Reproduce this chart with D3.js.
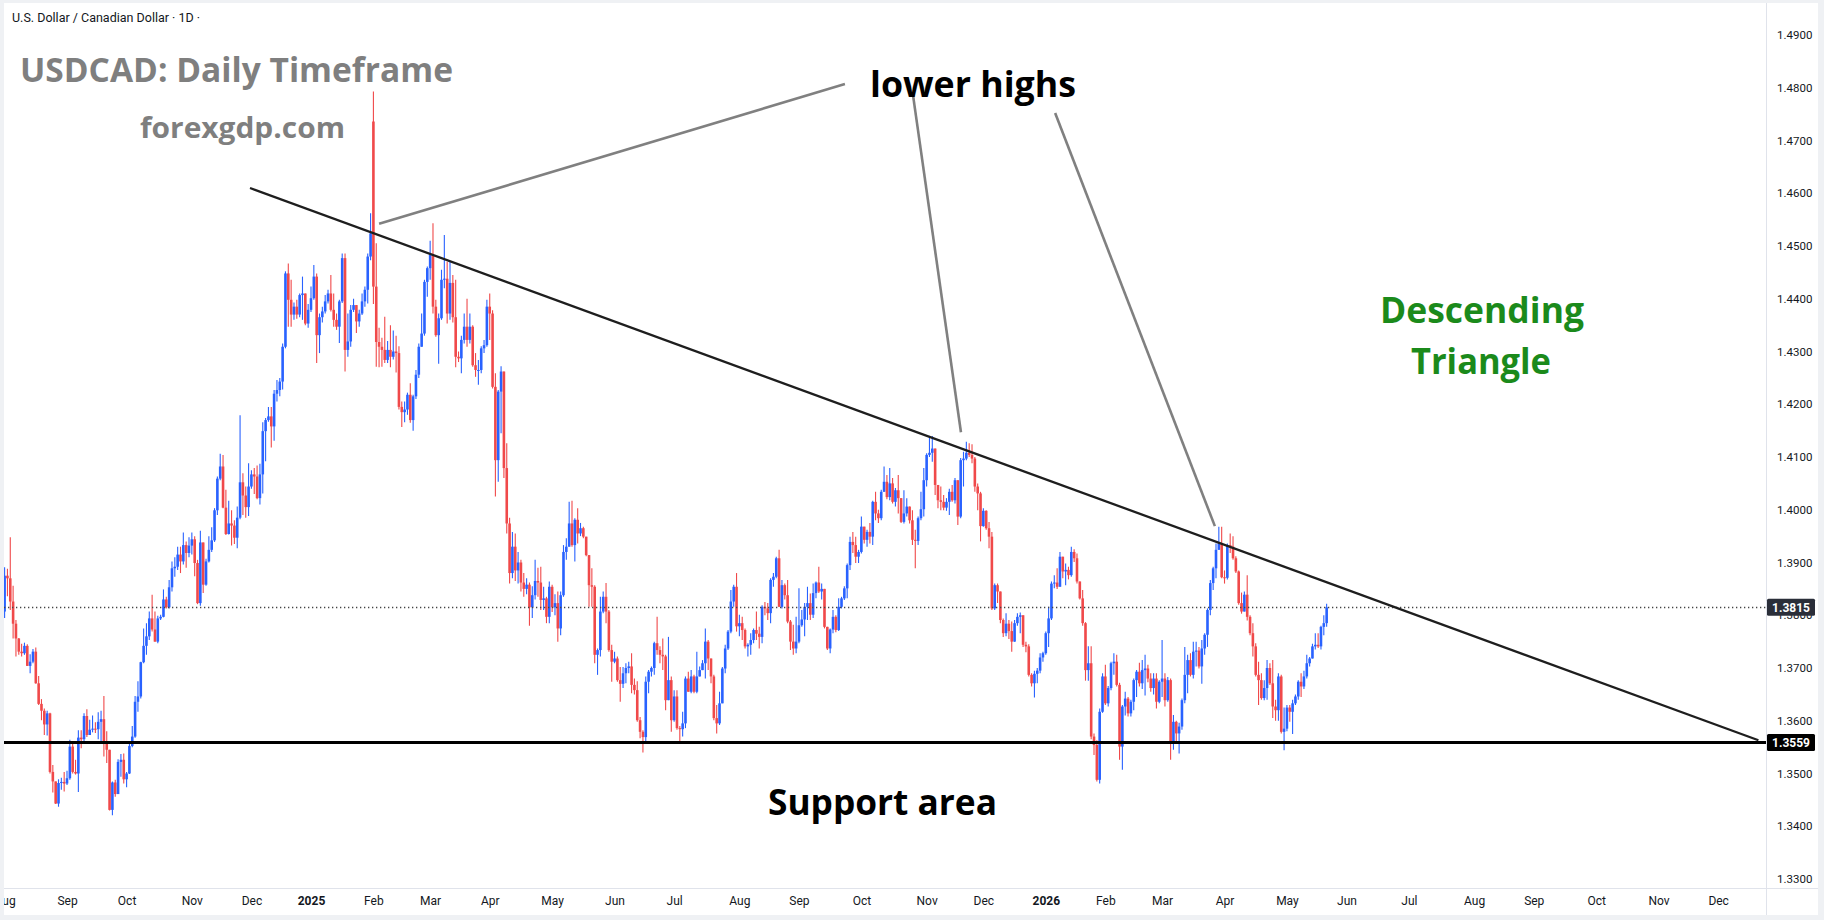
<!DOCTYPE html>
<html><head><meta charset="utf-8">
<script src="https://cdn.jsdelivr.net/npm/d3@7"></script>
<style>html,body{margin:0;padding:0;background:#fff;overflow:hidden}</style>
</head><body><svg id="c" width="1824" height="920" xmlns="http://www.w3.org/2000/svg"></svg>
<script>
// ---------------- DATA (USDCAD daily) ----------------
const startDate = "2024-08-01";          // first daily bar
const skippedDays = ["12-25", "01-01"];  // holidays without a bar
const firstOpen = 1.3807;
const gapOpens = {130: 1.4736};          // opening gaps (otherwise open = previous close)

const closes = [
1.3875,1.3870,1.3826,1.3784,1.3756,1.3731,1.3728,1.3742,1.3704,1.3712,
1.3731,1.3671,1.3632,1.3619,1.3593,1.3614,1.3503,1.3485,1.3443,1.3482,
1.3484,1.3481,1.3491,1.3551,1.3503,1.3500,1.3568,1.3565,1.3609,1.3573,
1.3583,1.3585,1.3584,1.3598,1.3603,1.3557,1.3545,1.3431,1.3483,1.3461,
1.3522,1.3526,1.3489,1.3500,1.3552,1.3570,1.3636,1.3646,1.3711,1.3742,
1.3760,1.3794,1.3773,1.3750,1.3794,1.3797,1.3830,1.3815,1.3853,1.3889,
1.3892,1.3915,1.3902,1.3933,1.3918,1.3932,1.3944,1.3899,1.3823,1.3938,
1.3858,1.3902,1.3924,1.3942,1.3999,1.4059,1.4082,1.4004,1.3954,1.3974,
1.3970,1.3947,1.3985,1.4052,1.4027,1.4005,1.4044,1.4067,1.4063,1.4022,
1.4067,1.4149,1.4170,1.4177,1.4158,1.4220,1.4227,1.4243,1.4309,1.4448,
1.4398,1.4370,1.4385,1.4370,1.4407,1.4410,1.4353,1.4379,1.4401,1.4442,
1.4331,1.4365,1.4376,1.4395,1.4410,1.4379,1.4360,1.4347,1.4395,1.4477,
1.4303,1.4319,1.4379,1.4388,1.4357,1.4372,1.4395,1.4417,1.4480,1.4524,
1.4423,1.4318,1.4309,1.4303,1.4284,1.4303,1.4290,1.4300,1.4297,1.4195,
1.4185,1.4190,1.4218,1.4170,1.4215,1.4256,1.4309,1.4334,1.4432,1.4458,
1.4483,1.4385,1.4331,1.4363,1.4436,1.4438,1.4372,1.4430,1.4365,1.4290,
1.4287,1.4322,1.4347,1.4322,1.4347,1.4274,1.4265,1.4265,1.4306,1.4312,
1.4385,1.4372,1.4233,1.4094,1.4224,1.4262,1.4079,1.3974,1.3880,1.3930,
1.3885,1.3900,1.3862,1.3850,1.3858,1.3815,1.3838,1.3865,1.3862,1.3829,
1.3832,1.3797,1.3854,1.3815,1.3823,1.3775,1.3838,1.3920,1.3930,1.3974,
1.3933,1.3981,1.3955,1.3965,1.3949,1.3914,1.3857,1.3854,1.3725,1.3734,
1.3807,1.3835,1.3807,1.3734,1.3712,1.3718,1.3677,1.3670,1.3690,1.3700,
1.3703,1.3668,1.3658,1.3601,1.3579,1.3569,1.3674,1.3693,1.3700,1.3747,
1.3734,1.3725,1.3722,1.3639,1.3677,1.3601,1.3646,1.3586,1.3584,1.3595,
1.3680,1.3655,1.3684,1.3655,1.3684,1.3696,1.3709,1.3750,1.3718,1.3684,
1.3605,1.3595,1.3633,1.3699,1.3737,1.3769,1.3826,1.3854,1.3779,1.3785,
1.3772,1.3741,1.3744,1.3753,1.3772,1.3765,1.3759,1.3816,1.3813,1.3804,
1.3867,1.3873,1.3908,1.3816,1.3857,1.3838,1.3788,1.3750,1.3737,1.3750,
1.3781,1.3792,1.3816,1.3823,1.3801,1.3842,1.3862,1.3845,1.3850,1.3778,
1.3737,1.3773,1.3797,1.3772,1.3816,1.3832,1.3851,1.3895,1.3939,1.3933,
1.3911,1.3920,1.3968,1.3943,1.3958,1.3949,1.4015,1.3993,1.3984,1.4034,
1.4053,1.4024,1.4050,1.4015,1.4037,1.4022,1.3977,1.3993,1.4006,1.3980,
1.3943,1.3941,1.3984,1.4001,1.4056,1.4104,1.4108,1.4116,1.4047,1.4018,
1.4015,1.4004,1.4015,1.4034,1.4018,1.4056,1.3987,1.4094,1.4097,1.4108,
1.4104,1.4097,1.4044,1.4031,1.3969,1.3998,1.3965,1.3949,1.3813,1.3857,
1.3845,1.3791,1.3766,1.3784,1.3770,1.3750,1.3785,1.3797,1.3800,1.3744,
1.3741,1.3687,1.3671,1.3689,1.3695,1.3720,1.3728,1.3766,1.3794,1.3860,
1.3862,1.3854,1.3911,1.3883,1.3886,1.3876,1.3920,1.3908,1.3864,1.3832,
1.3785,1.3696,1.3709,1.3570,1.3554,1.3488,1.3617,1.3684,1.3633,1.3662,
1.3709,1.3712,1.3668,1.3551,1.3627,1.3642,1.3614,1.3636,1.3677,1.3693,
1.3671,1.3696,1.3699,1.3680,1.3662,1.3680,1.3636,1.3674,1.3680,1.3639,
1.3677,1.3560,1.3598,1.3576,1.3589,1.3639,1.3687,1.3715,1.3687,1.3731,
1.3733,1.3703,1.3737,1.3763,1.3810,1.3861,1.3889,1.3924,1.3936,1.3872,
1.3871,1.3933,1.3930,1.3908,1.3883,1.3823,1.3807,1.3839,1.3797,1.3766,
1.3741,1.3687,1.3677,1.3643,1.3662,1.3700,1.3671,1.3627,1.3620,1.3684,
1.3579,1.3585,1.3625,1.3617,1.3633,1.3646,1.3674,1.3665,1.3684,1.3709,
1.3718,1.3741,1.3744,1.3741,1.3778,1.3785,1.3815];

const highs = [
1.3891,1.3888,1.3948,1.3856,1.3791,1.3757,1.3746,1.3748,1.3745,1.3726,
1.3736,1.3739,1.3685,1.3641,1.3623,1.3619,1.3615,1.3516,1.3485,1.3489,
1.3492,1.3503,1.3505,1.3564,1.3560,1.3526,1.3582,1.3582,1.3614,1.3622,
1.3602,1.3610,1.3597,1.3616,1.3619,1.3647,1.3580,1.3545,1.3485,1.3488,
1.3527,1.3537,1.3538,1.3503,1.3556,1.3590,1.3647,1.3675,1.3712,1.3775,
1.3785,1.3807,1.3839,1.3807,1.3799,1.3801,1.3849,1.3835,1.3867,1.3902,
1.3910,1.3930,1.3930,1.3957,1.3940,1.3948,1.3957,1.3950,1.3905,1.3960,
1.3938,1.3907,1.3950,1.3967,1.4003,1.4063,1.4106,1.4104,1.4038,1.4017,
1.3999,1.3980,1.4006,1.4179,1.4069,1.4044,1.4088,1.4075,1.4079,1.4084,
1.4087,1.4166,1.4174,1.4195,1.4195,1.4227,1.4246,1.4250,1.4315,1.4452,
1.4467,1.4436,1.4393,1.4398,1.4410,1.4442,1.4410,1.4390,1.4423,1.4464,
1.4448,1.4372,1.4385,1.4407,1.4417,1.4445,1.4410,1.4372,1.4398,1.4486,
1.4486,1.4372,1.4388,1.4400,1.4385,1.4379,1.4410,1.4423,1.4486,1.4562,
1.4793,1.4505,1.4345,1.4326,1.4366,1.4320,1.4350,1.4340,1.4330,1.4310,
1.4205,1.4205,1.4222,1.4240,1.4218,1.4265,1.4315,1.4372,1.4436,1.4461,
1.4510,1.4543,1.4398,1.4372,1.4455,1.4521,1.4470,1.4470,1.4445,1.4436,
1.4300,1.4330,1.4372,1.4400,1.4372,1.4350,1.4297,1.4284,1.4310,1.4322,
1.4398,1.4410,1.4378,1.4259,1.4227,1.4272,1.4262,1.4126,1.3985,1.3958,
1.3955,1.3920,1.3905,1.3880,1.3870,1.3862,1.3855,1.3905,1.3890,1.3892,
1.3854,1.3835,1.3864,1.3858,1.3840,1.3845,1.3845,1.3933,1.3946,1.4015,
1.4017,1.3984,1.4003,1.3975,1.3968,1.3949,1.3914,1.3889,1.3857,1.3737,
1.3835,1.3845,1.3861,1.3810,1.3744,1.3731,1.3722,1.3702,1.3702,1.3709,
1.3712,1.3728,1.3680,1.3675,1.3607,1.3582,1.3684,1.3696,1.3703,1.3750,
1.3797,1.3741,1.3756,1.3725,1.3759,1.3684,1.3658,1.3658,1.3590,1.3617,
1.3684,1.3693,1.3696,1.3687,1.3731,1.3703,1.3715,1.3775,1.3753,1.3715,
1.3687,1.3630,1.3655,1.3702,1.3744,1.3772,1.3848,1.3858,1.3880,1.3801,
1.3797,1.3775,1.3747,1.3766,1.3775,1.3807,1.3778,1.3819,1.3825,1.3823,
1.3870,1.3880,1.3911,1.3924,1.3867,1.3860,1.3867,1.3791,1.3782,1.3797,
1.3851,1.3810,1.3823,1.3854,1.3841,1.3860,1.3864,1.3892,1.3860,1.3850,
1.3778,1.3775,1.3810,1.3800,1.3832,1.3835,1.3855,1.3898,1.3949,1.3958,
1.3949,1.3924,1.3987,1.3968,1.3962,1.3975,1.4017,1.4034,1.4000,1.4038,
1.4082,1.4066,1.4079,1.4060,1.4041,1.4066,1.4022,1.4037,1.4022,1.4006,
1.3999,1.3962,1.3987,1.4034,1.4079,1.4107,1.4140,1.4140,1.4116,1.4047,
1.4044,1.4028,1.4022,1.4040,1.4047,1.4060,1.4056,1.4098,1.4110,1.4129,
1.4126,1.4124,1.4100,1.4050,1.4034,1.4003,1.3999,1.3977,1.3958,1.3860,
1.3860,1.3845,1.3794,1.3804,1.3791,1.3788,1.3791,1.3804,1.3805,1.3797,
1.3750,1.3745,1.3690,1.3695,1.3700,1.3728,1.3731,1.3769,1.3816,1.3864,
1.3876,1.3889,1.3920,1.3911,1.3898,1.3892,1.3930,1.3925,1.3917,1.3864,
1.3848,1.3787,1.3741,1.3741,1.3576,1.3563,1.3623,1.3690,1.3706,1.3666,
1.3712,1.3728,1.3725,1.3672,1.3630,1.3655,1.3645,1.3640,1.3680,1.3696,
1.3710,1.3715,1.3725,1.3706,1.3690,1.3690,1.3690,1.3677,1.3753,1.3690,
1.3683,1.3680,1.3611,1.3600,1.3596,1.3642,1.3740,1.3725,1.3728,1.3750,
1.3750,1.3740,1.3753,1.3766,1.3813,1.3867,1.3892,1.3936,1.3968,1.3968,
1.3885,1.3936,1.3955,1.3950,1.3912,1.3885,1.3843,1.3845,1.3876,1.3800,
1.3785,1.3747,1.3712,1.3690,1.3677,1.3715,1.3709,1.3715,1.3640,1.3690,
1.3687,1.3625,1.3630,1.3630,1.3640,1.3650,1.3677,1.3690,1.3695,1.3725,
1.3721,1.3746,1.3766,1.3766,1.3780,1.3800,1.3822];

const lows = [
1.3795,1.3836,1.3810,1.3756,1.3722,1.3725,1.3722,1.3725,1.3704,1.3690,
1.3709,1.3670,1.3630,1.3601,1.3573,1.3572,1.3500,1.3464,1.3442,1.3437,
1.3469,1.3466,1.3478,1.3488,1.3500,1.3498,1.3465,1.3548,1.3557,1.3569,
1.3576,1.3578,1.3577,1.3565,1.3558,1.3532,1.3520,1.3430,1.3421,1.3456,
1.3461,1.3494,1.3481,1.3474,1.3499,1.3550,1.3568,1.3617,1.3642,1.3709,
1.3725,1.3753,1.3769,1.3750,1.3747,1.3791,1.3796,1.3813,1.3813,1.3845,
1.3873,1.3886,1.3880,1.3896,1.3890,1.3910,1.3915,1.3874,1.3821,1.3818,
1.3842,1.3856,1.3900,1.3920,1.3939,1.3990,1.4056,1.4003,1.3952,1.3953,
1.3932,1.3935,1.3927,1.3982,1.3990,1.3985,1.3988,1.4040,1.4030,1.4020,
1.4010,1.4031,1.4092,1.4167,1.4118,1.4131,1.4205,1.4215,1.4228,1.4306,
1.4347,1.4347,1.4360,1.4362,1.4365,1.4360,1.4350,1.4345,1.4375,1.4398,
1.4278,1.4297,1.4355,1.4372,1.4391,1.4376,1.4347,1.4341,1.4316,1.4392,
1.4262,1.4290,1.4309,1.4375,1.4335,1.4347,1.4369,1.4385,1.4391,1.4473,
1.4390,1.4271,1.4270,1.4271,1.4278,1.4278,1.4270,1.4285,1.4260,1.4190,
1.4157,1.4166,1.4180,1.4165,1.4150,1.4210,1.4250,1.4309,1.4330,1.4404,
1.4436,1.4372,1.4328,1.4277,1.4360,1.4420,1.4353,1.4360,1.4355,1.4270,
1.4280,1.4259,1.4315,1.4309,1.4315,1.4271,1.4252,1.4237,1.4259,1.4297,
1.4309,1.4322,1.4230,1.4025,1.4053,1.4145,1.4060,1.3955,1.3860,1.3870,
1.3865,1.3860,1.3845,1.3835,1.3840,1.3780,1.3795,1.3830,1.3835,1.3810,
1.3810,1.3785,1.3785,1.3806,1.3800,1.3750,1.3762,1.3835,1.3905,1.3953,
1.3930,1.3902,1.3936,1.3950,1.3946,1.3912,1.3816,1.3816,1.3709,1.3687,
1.3722,1.3804,1.3785,1.3731,1.3674,1.3709,1.3674,1.3636,1.3662,1.3671,
1.3690,1.3652,1.3650,1.3598,1.3567,1.3540,1.3557,1.3652,1.3684,1.3687,
1.3725,1.3709,1.3696,1.3620,1.3639,1.3579,1.3598,1.3583,1.3557,1.3570,
1.3586,1.3655,1.3652,1.3652,1.3652,1.3684,1.3696,1.3680,1.3696,1.3671,
1.3601,1.3576,1.3592,1.3633,1.3690,1.3734,1.3766,1.3816,1.3769,1.3760,
1.3753,1.3737,1.3722,1.3725,1.3747,1.3753,1.3737,1.3747,1.3800,1.3791,
1.3785,1.3854,1.3870,1.3816,1.3813,1.3830,1.3785,1.3734,1.3725,1.3728,
1.3747,1.3778,1.3760,1.3791,1.3791,1.3795,1.3832,1.3842,1.3830,1.3775,
1.3734,1.3728,1.3766,1.3768,1.3770,1.3813,1.3829,1.3832,1.3886,1.3918,
1.3899,1.3899,1.3917,1.3936,1.3930,1.3936,1.3933,1.3980,1.3975,1.3980,
1.4034,1.4020,1.4018,1.4012,1.4006,1.3993,1.3975,1.3974,1.3987,1.3974,
1.3933,1.3889,1.3933,1.3980,1.3987,1.4044,1.4100,1.4091,1.4028,1.4003,
1.3999,1.3999,1.3998,1.3990,1.4015,1.4012,1.3971,1.3984,1.4044,1.4094,
1.4100,1.4088,1.4034,1.3999,1.3940,1.3968,1.3962,1.3927,1.3810,1.3810,
1.3823,1.3785,1.3759,1.3760,1.3755,1.3731,1.3750,1.3780,1.3766,1.3740,
1.3730,1.3684,1.3665,1.3644,1.3671,1.3690,1.3712,1.3725,1.3740,1.3791,
1.3851,1.3850,1.3854,1.3870,1.3857,1.3868,1.3873,1.3901,1.3860,1.3830,
1.3780,1.3676,1.3676,1.3565,1.3535,1.3485,1.3481,1.3615,1.3630,1.3627,
1.3658,1.3687,1.3665,1.3526,1.3507,1.3610,1.3608,1.3608,1.3620,1.3645,
1.3665,1.3660,1.3648,1.3673,1.3655,1.3650,1.3623,1.3633,1.3645,1.3627,
1.3636,1.3526,1.3545,1.3560,1.3538,1.3583,1.3633,1.3652,1.3684,1.3680,
1.3703,1.3699,1.3670,1.3725,1.3740,1.3800,1.3848,1.3870,1.3924,1.3870,
1.3860,1.3868,1.3918,1.3905,1.3880,1.3820,1.3803,1.3807,1.3790,1.3762,
1.3722,1.3684,1.3630,1.3640,1.3639,1.3640,1.3668,1.3605,1.3600,1.3600,
1.3576,1.3544,1.3580,1.3598,1.3575,1.3630,1.3640,1.3645,1.3660,1.3680,
1.3703,1.3718,1.3735,1.3738,1.3735,1.3762,1.3778];

const priceTicks = [1.33,1.34,1.35,1.36,1.37,1.38,1.39,1.40,1.41,1.42,1.43,1.44,1.45,1.46,1.47,1.48,1.49];
const monthNames = ["Jan","Feb","Mar","Apr","May","Jun","Jul","Aug","Sep","Oct","Nov","Dec"];
const lastPrice = 1.3815;
const supportLevel = 1.3559;
// annotation lines in [bar index, price]
const trendLine = [[86.5, 1.4610], [618.2, 1.3563]];
const pointerLines = [
  [[132.0, 1.4542], [296.2, 1.4807]],
  [[320.2, 1.4786], [337.1, 1.4147]],
  [[370.3, 1.4752], [426.6, 1.3969]]
];

// ---------------- LAYOUT ----------------
const W = 1824, H = 920;
const plotL = 4, plotR = 1766, plotT = 3, plotB = 888, frameR = 1818, frameB = 915;
const UP = "#2962ff", DOWN = "#f0494a";

const svg = d3.select("#c");
svg.append("rect").attr("width", W).attr("height", H).attr("fill", "#eff1f4");
svg.append("rect").attr("x", plotL).attr("y", plotT).attr("width", frameR - plotL).attr("height", frameB - plotT).attr("fill", "#fff");

// dates of bars (weekdays, minus holidays), extended into the future for the axis
function buildDates(n) {
  const out = [];
  const d = new Date(startDate + "T00:00:00Z");
  while (out.length < n) {
    const wd = d.getUTCDay();
    const md = String(d.getUTCMonth() + 1).padStart(2, "0") + "-" + String(d.getUTCDate()).padStart(2, "0");
    if (wd >= 1 && wd <= 5 && !skippedDays.includes(md)) out.push(new Date(d));
    d.setUTCDate(d.getUTCDate() + 1);
  }
  return out;
}
const dates = buildDates(622);

const x = d3.scaleLinear().domain([0, 604]).range([4.6, 4.6 + 2.837 * 604]);
const y = d3.scaleLinear().domain([1.33, 1.49]).range([879, 35]);

const defs = svg.append("defs");
defs.append("clipPath").attr("id", "plotClip").append("rect")
  .attr("x", plotL).attr("y", plotT).attr("width", plotR - plotL).attr("height", plotB - plotT);
defs.append("clipPath").attr("id", "timeClip").append("rect")
  .attr("x", plotL).attr("y", plotB).attr("width", plotR - plotL).attr("height", frameB - plotB);

const plot = svg.append("g").attr("clip-path", "url(#plotClip)");

// candles
const candles = closes.map((c, i) => {
  const o = i === 0 ? firstOpen : (gapOpens[i] !== undefined ? gapOpens[i] : closes[i - 1]);
  return {i, o, c, h: highs[i], l: lows[i]};
});
const cg = plot.append("g");
cg.selectAll("line.wick").data(candles).enter().append("line")
  .attr("x1", d => x(d.i)).attr("x2", d => x(d.i))
  .attr("y1", d => y(Math.max(d.h, d.o, d.c))).attr("y2", d => y(Math.min(d.l, d.o, d.c)))
  .attr("stroke", d => d.c >= d.o ? UP : DOWN).attr("stroke-width", 1.1);
cg.selectAll("rect.body").data(candles).enter().append("rect")
  .attr("x", d => x(d.i) - 1.3)
  .attr("width", 2.6)
  .attr("y", d => y(Math.max(d.o, d.c)))
  .attr("height", d => Math.max(1, Math.abs(y(d.o) - y(d.c))))
  .attr("fill", d => d.c >= d.o ? UP : DOWN);

// last price dotted line
plot.append("line").attr("x1", plotL).attr("x2", plotR)
  .attr("y1", Math.round(y(lastPrice)) + 0.5).attr("y2", Math.round(y(lastPrice)) + 0.5)
  .attr("stroke", "#444").attr("stroke-width", 1.3).attr("stroke-dasharray", "1.3 2.7");

// support line
plot.append("line").attr("x1", plotL).attr("x2", plotR)
  .attr("y1", y(supportLevel)).attr("y2", y(supportLevel))
  .attr("stroke", "#000").attr("stroke-width", 3);

// trend line
plot.append("line")
  .attr("x1", x(trendLine[0][0])).attr("y1", y(trendLine[0][1]))
  .attr("x2", x(trendLine[1][0])).attr("y2", y(trendLine[1][1]))
  .attr("stroke", "#1e1e1e").attr("stroke-width", 2.3);

// pointer lines
pointerLines.forEach(p => {
  plot.append("line")
    .attr("x1", x(p[0][0])).attr("y1", y(p[0][1]))
    .attr("x2", x(p[1][0])).attr("y2", y(p[1][1]))
    .attr("stroke", "#808080").attr("stroke-width", 2.6);
});

// ---------------- TEXTS ----------------
const bigFont = "'Open Sans', 'Noto Sans', sans-serif";
function bigText(txt, xx, yy, size, color, len) {
  svg.append("text").attr("x", xx).attr("y", yy)
    .attr("font-family", bigFont).attr("font-weight", 700).attr("font-size", size)
    .attr("fill", color).attr("textLength", len).attr("lengthAdjust", "spacingAndGlyphs").text(txt);
}
bigText("USDCAD: Daily Timeframe", 20, 82, 34, "#7f7f7f", 433);
bigText("forexgdp.com", 140, 138, 28, "#7f7f7f", 205);
bigText("lower highs", 870, 97, 36, "#000", 206);
bigText("Support area", 768, 815, 36, "#000", 229);
bigText("Descending", 1380, 323, 36, "#1b8a1b", 204);
bigText("Triangle", 1411, 374, 36, "#1b8a1b", 140);

svg.append("text").attr("x", 12).attr("y", 22)
  .attr("font-family", "Roboto, 'Noto Sans', sans-serif").attr("font-size", 12.5)
  .attr("fill", "#131722").text("U.S. Dollar / Canadian Dollar · 1D ·");

// ---------------- AXES ----------------
const axisFont = "Roboto, 'Liberation Sans', sans-serif";
const yAxis = d3.axisRight(y).tickValues(priceTicks).tickFormat(d3.format(".4f")).tickSize(0).tickPadding(11);
const yg = svg.append("g").attr("transform", `translate(${plotR},0)`).call(yAxis);
yg.select(".domain").remove();
yg.selectAll("text").attr("font-family", axisFont).attr("font-size", 11.5).attr("fill", "#131722");

// month ticks
const tickIdx = [], tickLab = [], tickBold = [];
dates.forEach((d, i) => {
  if (i === 0 || d.getUTCMonth() !== dates[i - 1].getUTCMonth()) {
    tickIdx.push(i);
    const m = d.getUTCMonth();
    tickLab.push(m === 0 ? String(d.getUTCFullYear()) : monthNames[m]);
    tickBold.push(m === 0);
  }
});
const xAxis = d3.axisBottom(x).tickValues(tickIdx)
  .tickFormat((v, k) => tickLab[k]).tickSize(0).tickPadding(8);
const xg = svg.append("g").attr("clip-path", "url(#timeClip)")
  .append("g").attr("transform", `translate(0,${plotB})`).call(xAxis);
xg.select(".domain").remove();
xg.selectAll("text").attr("font-family", axisFont).attr("font-size", 12).attr("fill", "#131722")
  .attr("font-weight", (v, k) => tickBold[k] ? 700 : 400);

// separators
svg.append("line").attr("x1", plotR + 0.5).attr("x2", plotR + 0.5).attr("y1", plotT).attr("y2", frameB)
  .attr("stroke", "#e0e3eb").attr("stroke-width", 1);
svg.append("line").attr("x1", plotL).attr("x2", frameR).attr("y1", plotB + 0.5).attr("y2", plotB + 0.5)
  .attr("stroke", "#e0e3eb").attr("stroke-width", 1);

// price label boxes
function priceBox(p, fill) {
  const cy = y(p);
  svg.append("rect").attr("x", plotR + 1).attr("y", cy - 8.5).attr("width", 48).attr("height", 17)
    .attr("rx", 1.5).attr("fill", fill);
  svg.append("text").attr("x", plotR + 25).attr("y", cy).attr("dy", "0.35em")
    .attr("text-anchor", "middle").attr("font-family", axisFont).attr("font-size", 12)
    .attr("font-weight", 700).attr("fill", "#fff").text(d3.format(".4f")(p));
}
priceBox(lastPrice, "#2a2e39");
priceBox(supportLevel, "#000");
</script>
</body></html>
